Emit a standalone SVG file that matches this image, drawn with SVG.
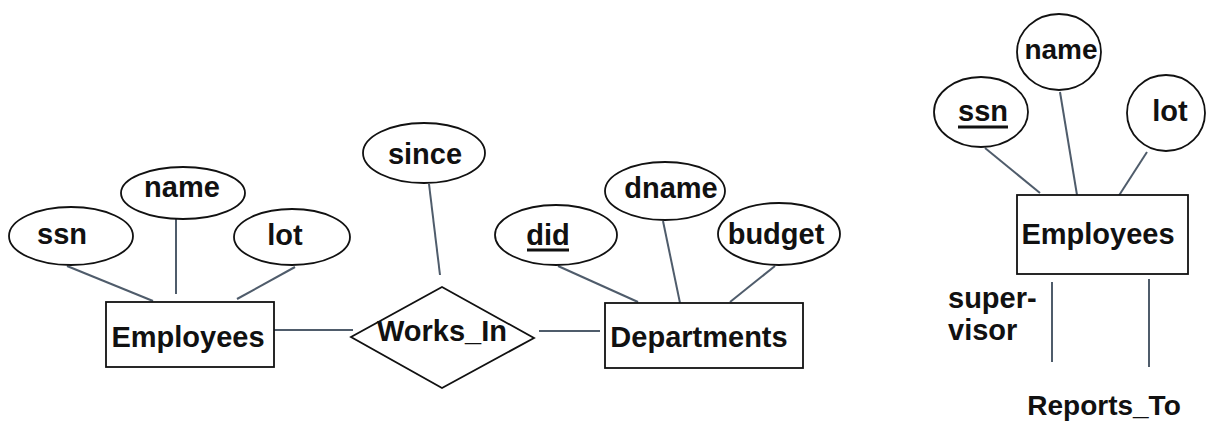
<svg xmlns="http://www.w3.org/2000/svg" width="1207" height="426" viewBox="0 0 1207 426">
<style>
.shape{fill:#fff;stroke:#111;stroke-width:1.8}
.lbl{font-family:"Liberation Sans",Arial,sans-serif;font-weight:bold;font-size:29px;fill:#111;text-anchor:middle}
.lbl2{font-family:"Liberation Sans",Arial,sans-serif;font-weight:bold;font-size:29px;fill:#111}
.conn line{stroke:#4f5c6b;stroke-width:2}
.ul{stroke:#111;stroke-width:3}
</style>
<rect width="1207" height="426" fill="#fff"/>
<g id="connectors" class="conn">
<line x1="67" y1="266" x2="153" y2="301"/>
<line x1="176" y1="218" x2="176" y2="294"/>
<line x1="295" y1="267" x2="237" y2="299"/>
<line x1="274" y1="330" x2="353" y2="330"/>
<line x1="429" y1="184" x2="440" y2="275"/>
<line x1="539" y1="331" x2="600" y2="331"/>
<line x1="558" y1="266" x2="638" y2="302"/>
<line x1="663" y1="221" x2="680" y2="303"/>
<line x1="775" y1="266" x2="730" y2="302"/>
<line x1="985" y1="148" x2="1040" y2="193"/>
<line x1="1060" y1="92" x2="1077" y2="195"/>
<line x1="1147" y1="152" x2="1118" y2="197"/>
<line x1="1052" y1="282" x2="1052" y2="362"/>
<line x1="1149" y1="279" x2="1149" y2="367"/>
</g>
<g id="emp1">
<rect class="shape" x="106" y="302" width="168" height="65"/>
<text class="lbl" x="188" y="347">Employees</text>
</g>
<g id="emp1_ssn">
<ellipse class="shape" cx="71" cy="236" rx="62" ry="29"/>
<text class="lbl" x="62" y="244">ssn</text>
</g>
<g id="emp1_name">
<ellipse class="shape" cx="183" cy="193" rx="62" ry="26"/>
<text class="lbl" x="182" y="197">name</text>
</g>
<g id="emp1_lot">
<ellipse class="shape" cx="292" cy="237" rx="58" ry="28"/>
<text class="lbl" x="285" y="245">lot</text>
</g>
<g id="works_in">
<polygon class="shape" points="442,287 534,338 442,388 351,337"/>
<text class="lbl" x="442" y="341">Works_In</text>
</g>
<g id="since">
<ellipse class="shape" cx="424" cy="153" rx="61" ry="30"/>
<text class="lbl" x="425" y="164">since</text>
</g>
<g id="departments">
<rect class="shape" x="605" y="303" width="198" height="65"/>
<text class="lbl" x="699" y="347">Departments</text>
</g>
<g id="did">
<ellipse class="shape" cx="556" cy="235" rx="61" ry="30"/>
<text class="lbl" x="548" y="245">did</text>
<line class="ul" x1="527" y1="250" x2="569" y2="250"/>
</g>
<g id="dname">
<ellipse class="shape" cx="665" cy="191" rx="60" ry="29"/>
<text class="lbl" x="671" y="198">dname</text>
</g>
<g id="budget">
<ellipse class="shape" cx="779" cy="234" rx="61" ry="31"/>
<text class="lbl" x="776" y="244">budget</text>
</g>
<g id="emp2">
<rect class="shape" x="1017" y="195" width="171" height="79"/>
<text class="lbl" x="1098" y="244">Employees</text>
</g>
<g id="emp2_ssn">
<ellipse class="shape" cx="981" cy="112" rx="47" ry="35"/>
<text class="lbl" x="983" y="121">ssn</text>
<line class="ul" x1="958" y1="127" x2="1008" y2="127"/>
</g>
<g id="emp2_name">
<ellipse class="shape" cx="1059" cy="52" rx="42" ry="38"/>
<text class="lbl" x="1061" y="59" style="font-size:28px">name</text>
</g>
<g id="emp2_lot">
<ellipse class="shape" cx="1166" cy="113" rx="39" ry="38"/>
<text class="lbl" x="1170" y="121">lot</text>
</g>
<g id="reports_to">
<text class="lbl2" x="948" y="308">super-</text>
<text class="lbl2" x="948" y="340">visor</text>
<text class="lbl" x="1104" y="415" style="font-size:28px">Reports_To</text>
</g>
</svg>
